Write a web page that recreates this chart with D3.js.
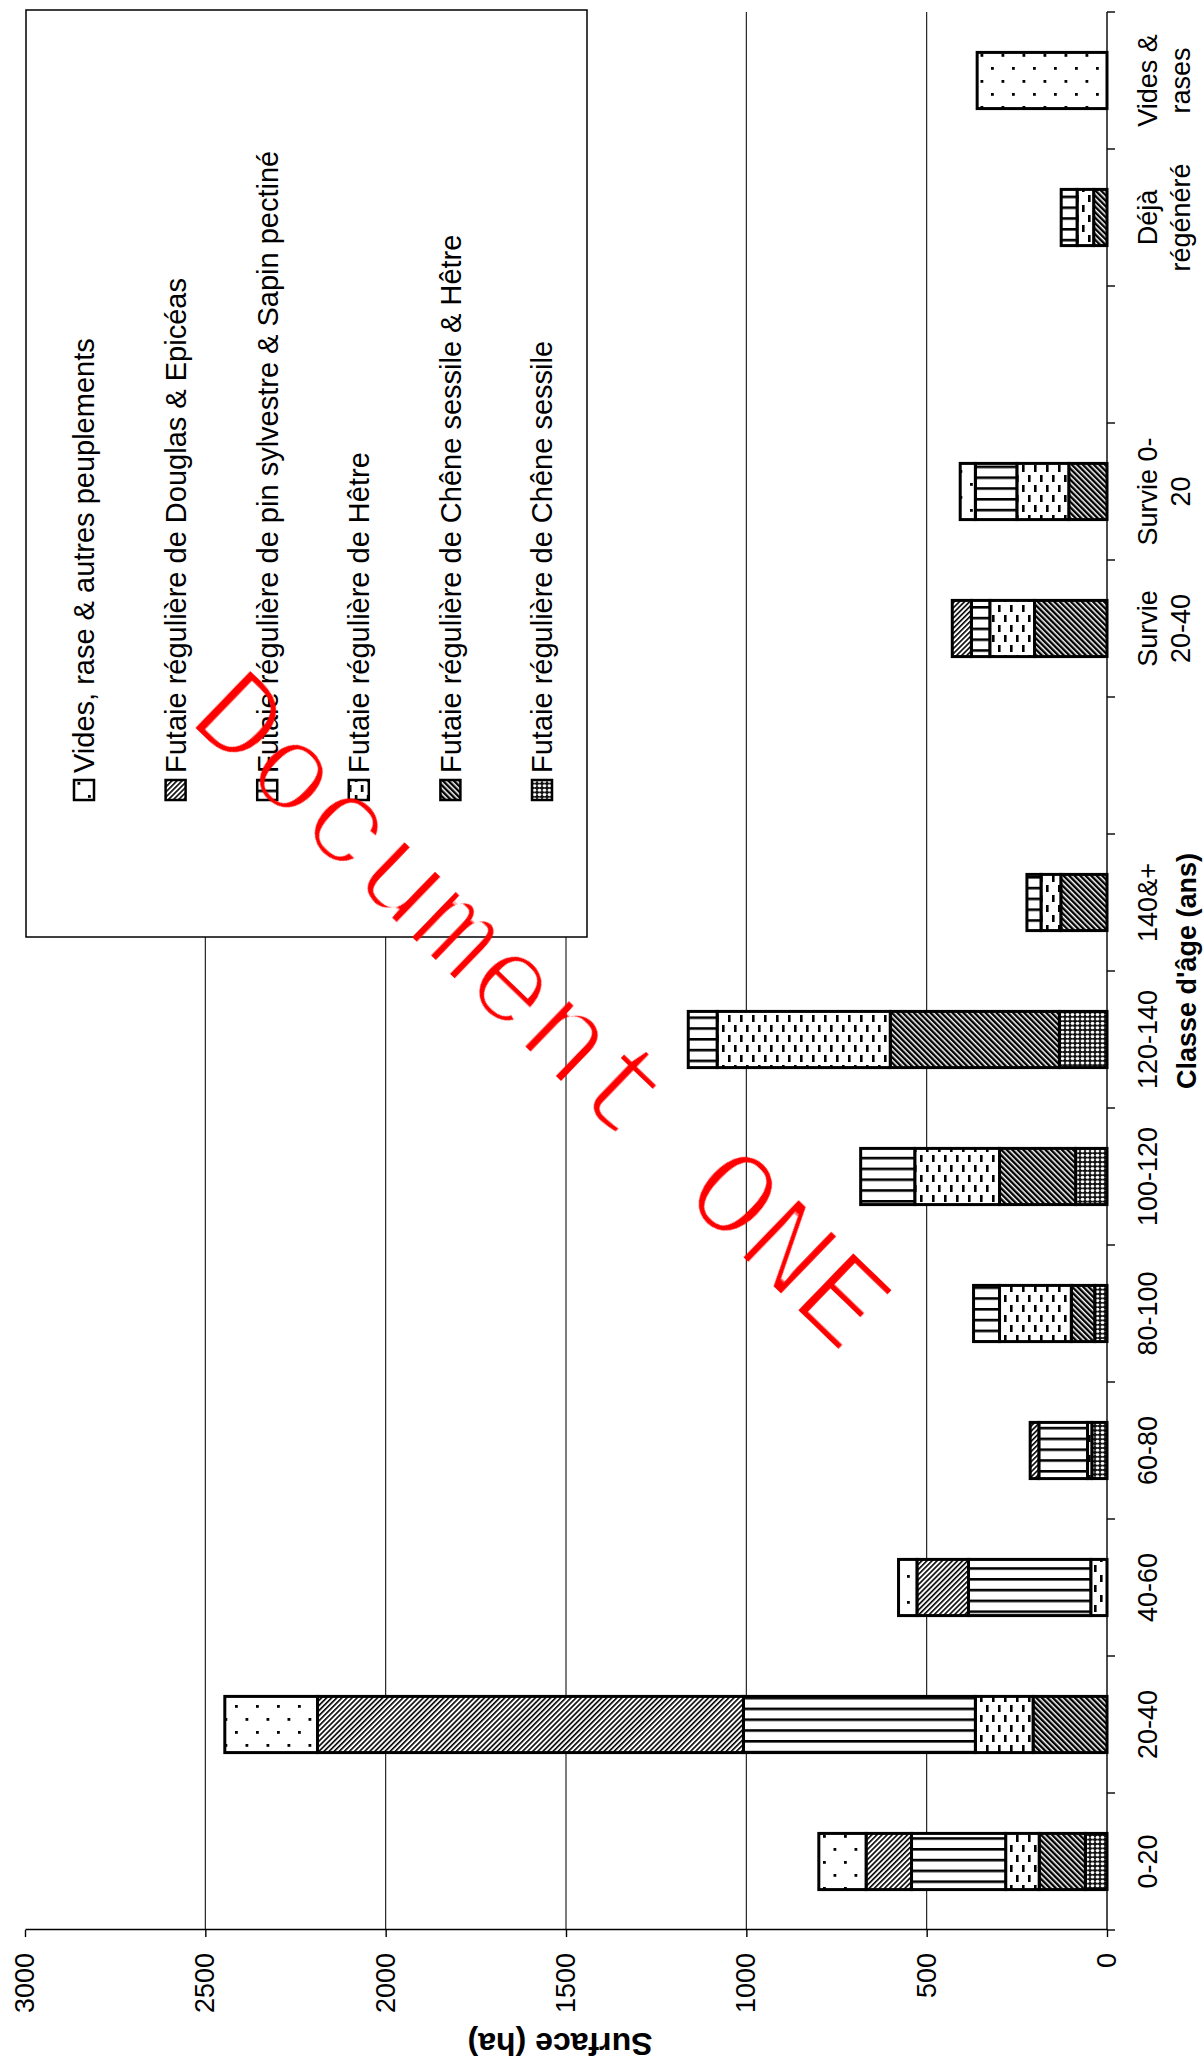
<!DOCTYPE html>
<html>
<head>
<meta charset="utf-8">
<script src="https://cdn.jsdelivr.net/npm/d3@7"></script>
<style>
  html, body { margin: 0; padding: 0; background: #fff; }
  svg { display: block; }
</style>
</head>
<body>
<svg id="chart" width="1203" height="2064"></svg>
<script>
// Surface par classe d'âge et type de peuplement (ha)
const categories = ["0-20", "20-40", "40-60", "60-80", "80-100", "100-120", "120-140", "140&+", "",
                    "Survie\n20-40", "Survie 0-\n20", "", "Déjà\nrégénéré", "Vides &\nrases"];

const cheneSessile      = [60,    0,   0,  42,  34,  87, 132,   0, 0,   0,   0, 0,  0,   0];
const cheneSessileHetre = [128, 205,   0,   0,  65, 211, 469, 128, 0, 201, 106, 0, 37,   0];
const hetre             = [93,  160,  45,  12, 199, 235, 480,  55, 0, 124, 144, 0, 46,   0];
const pinSapin          = [261, 643, 339, 135,  72, 150,  80,  39, 0,  51, 115, 0, 44,   0];
const douglasEpiceas    = [126, 1181, 143, 24,   0,   0,   0,   0, 0,  53,   0, 0,  0,   0];
const videsRases        = [131, 257,  51,   0,   0,   0,   0,   0, 0,   0,  42, 0,  0, 360];

const valueTicks = [0, 500, 1000, 1500, 2000, 2500, 3000];
const gridValues = [500, 1000, 1500, 2000, 2500];

// stacking order, from the axis outward
const seriesKeys = ["cs", "ch", "h", "pin", "dg", "vd"];
// legend order, as listed in the key
const legendEntries = [
  { key: "vd",  label: "Vides, rase & autres peuplements" },
  { key: "dg",  label: "Futaie régulière de Douglas & Epicéas" },
  { key: "pin", label: "Futaie régulière de pin sylvestre & Sapin pectiné" },
  { key: "h",   label: "Futaie régulière de Hêtre" },
  { key: "ch",  label: "Futaie régulière de Chêne sessile & Hêtre" },
  { key: "cs",  label: "Futaie régulière de Chêne sessile" }
];

const rows = categories.map((c, i) => ({
  i, label: c,
  cs: cheneSessile[i], ch: cheneSessileHetre[i], h: hetre[i],
  pin: pinSapin[i], dg: douglasEpiceas[i], vd: videsRases[i]
}));

const W = 1203, H = 2064;
const FONT = "'Liberation Sans', Arial, Helvetica, sans-serif";

const svg = d3.select("#chart");
svg.append("rect").attr("width", W).attr("height", H).attr("fill", "#fff");
const defs = svg.append("defs");

// thins the glyph strokes of the stamp text
defs.append("filter").attr("id", "thin")
  .attr("x", "-5%").attr("y", "-20%").attr("width", "110%").attr("height", "140%")
  .append("feMorphology").attr("operator", "erode").attr("radius", 2.2);

// ---- hatch patterns (tile axes follow the page, hence the rotate(90)) ----
function stripes(id, angle, period, lineW) {
  const p = defs.append("pattern").attr("id", id)
    .attr("patternUnits", "userSpaceOnUse")
    .attr("width", period).attr("height", period)
    .attr("patternTransform", `rotate(90) rotate(${angle})`);
  p.append("rect").attr("width", period).attr("height", period).attr("fill", "#fff");
  p.append("rect").attr("width", lineW).attr("height", period).attr("fill", "#000");
}
// Chêne sessile & Hêtre : dense dark diagonal
stripes("pat-ch", -45, 3.9, 2.4);
// Douglas & Epicéas : fine diagonal the other way
stripes("pat-dg", 45, 3.6, 1.6);

// Chêne sessile : dark grid with small light holes
{
  const p = defs.append("pattern").attr("id", "pat-cs")
    .attr("patternUnits", "userSpaceOnUse").attr("width", 5).attr("height", 4.4)
    .attr("patternTransform", "rotate(90)");
  p.append("rect").attr("width", 5).attr("height", 4.4).attr("fill", "#111");
  p.append("ellipse").attr("cx", 2.5).attr("cy", 2.2).attr("rx", 1.9).attr("ry", 1.5).attr("fill", "#fff");
}
// Pin sylvestre & Sapin : parallel bold rules
{
  const p = defs.append("pattern").attr("id", "pat-pin")
    .attr("patternUnits", "userSpaceOnUse").attr("width", 10).attr("height", 10.8)
    .attr("patternTransform", "rotate(90)");
  p.append("rect").attr("width", 10).attr("height", 10.8).attr("fill", "#fff");
  p.append("rect").attr("y", 0).attr("width", 10).attr("height", 2.6).attr("fill", "#000");
}
// Hêtre : staggered short dashes
{
  const p = defs.append("pattern").attr("id", "pat-h")
    .attr("patternUnits", "userSpaceOnUse").attr("width", 12).attr("height", 20)
    .attr("patternTransform", "rotate(90)");
  p.append("rect").attr("width", 12).attr("height", 20).attr("fill", "#fff");
  p.append("rect").attr("x", 2).attr("y", 1).attr("width", 2.6).attr("height", 7).attr("fill", "#000");
  p.append("rect").attr("x", 8).attr("y", 11).attr("width", 2.6).attr("height", 7).attr("fill", "#000");
}
// Vides & rases : sparse dots
{
  const p = defs.append("pattern").attr("id", "pat-vd")
    .attr("patternUnits", "userSpaceOnUse").attr("width", 21).attr("height", 26)
    .attr("patternTransform", "rotate(90)");
  p.append("rect").attr("width", 21).attr("height", 26).attr("fill", "#fff");
  p.append("rect").attr("x", 4).attr("y", 5).attr("width", 2.8).attr("height", 2.8).attr("fill", "#000");
  p.append("rect").attr("x", 14.5).attr("y", 18).attr("width", 2.8).attr("height", 2.8).attr("fill", "#000");
}
const fillFor = k => `url(#pat-${k})`;

// ---- the chart is laid out upright in g, then turned a quarter turn ----
const g = svg.append("g").attr("transform", `translate(0,${H}) rotate(-90)`);

const x = d3.scaleBand().domain(d3.range(categories.length)).range([134, 2052]).padding(0);
const barW = x.bandwidth() * 0.41;
const y = d3.scaleLinear().domain([0, 3000]).range([1107, 25]);

// gridlines
g.append("g").selectAll("line").data(gridValues).join("line")
  .attr("x1", x.range()[0]).attr("x2", x.range()[1])
  .attr("y1", d => y(d)).attr("y2", d => y(d))
  .attr("stroke", "#111").attr("stroke-width", 1.1);

// stacked bars
const stacked = d3.stack().keys(seriesKeys)(rows);
const barG = g.append("g");
stacked.forEach(layer => {
  barG.append("g").selectAll("rect")
    .data(layer.filter(d => d[1] - d[0] > 0))
    .join("rect")
    .attr("x", d => x(d.data.i) + (x.bandwidth() - barW) / 2)
    .attr("width", barW)
    .attr("y", d => y(d[1]))
    .attr("height", d => y(d[0]) - y(d[1]))
    .attr("fill", fillFor(layer.key))
    .attr("stroke", "#000").attr("stroke-width", 3);
});

// value axis
const yAxis = g.append("g").attr("transform", `translate(${x.range()[0]},0)`)
  .call(d3.axisLeft(y).tickValues(valueTicks).tickFormat(d3.format("d"))
    .tickSize(7).tickSizeOuter(0).tickPadding(16));
yAxis.select(".domain").attr("stroke", "#000").attr("stroke-width", 1.4);
yAxis.selectAll(".tick line").attr("stroke", "#000").attr("stroke-width", 1.4);
yAxis.selectAll(".tick text").attr("font-family", FONT).attr("font-size", 27).attr("fill", "#000");

// category axis
const catAxis = g.append("g");
catAxis.append("line")
  .attr("x1", x.range()[0]).attr("x2", x.range()[1])
  .attr("y1", y(0)).attr("y2", y(0))
  .attr("stroke", "#000").attr("stroke-width", 1.4);
const boundaries = d3.range(categories.length + 1).map(i => x.range()[0] + i * x.step());
catAxis.selectAll("line.tick").data(boundaries).join("line").attr("class", "tick")
  .attr("x1", d => d).attr("x2", d => d)
  .attr("y1", y(0)).attr("y2", y(0) + 8)
  .attr("stroke", "#000").attr("stroke-width", 1.4);
const catLabels = catAxis.selectAll("text").data(rows).join("text")
  .attr("font-family", FONT).attr("font-size", 27).attr("fill", "#000")
  .attr("text-anchor", "middle");
catLabels.each(function (d) {
  const lines = d.label.split("\n");
  d3.select(this).selectAll("tspan").data(lines).join("tspan")
    .attr("x", x(d.i) + x.bandwidth() / 2)
    .attr("y", (l, k) => 1157 + k * 33)
    .text(l => l);
});

// axis titles
g.append("text")
  .attr("x", (x.range()[0] + x.range()[1]) / 2).attr("y", 1196)
  .attr("text-anchor", "middle")
  .attr("font-family", FONT).attr("font-size", 27).attr("font-weight", "bold")
  .text("Classe d'âge (ans)");
g.append("text")
  .attr("transform", `translate(31,${(y(0) + y(3000)) / 2 - 6}) rotate(-90)`)
  .attr("text-anchor", "middle")
  .attr("font-family", FONT).attr("font-size", 32).attr("font-weight", "bold")
  .text("Surface (ha)");

// legend
const legend = g.append("g");
legend.append("rect")
  .attr("x", 1127).attr("y", 26).attr("width", 2054 - 1127).attr("height", 587 - 26)
  .attr("fill", "#fff").attr("stroke", "#000").attr("stroke-width", 1.5);
const items = legend.selectAll("g.item").data(legendEntries).join("g").attr("class", "item")
  .attr("transform", (d, i) => `translate(0,${84 + i * 91.6})`);
items.append("rect")
  .attr("x", 1264).attr("y", -10).attr("width", 20).attr("height", 20)
  .attr("fill", d => fillFor(d.key)).attr("stroke", "#000").attr("stroke-width", 2.5);
items.append("text")
  .attr("x", 1291).attr("y", 10.4)
  .attr("font-family", FONT).attr("font-size", 29).attr("fill", "#000")
  .text(d => d.label);

// document stamp
svg.append("text")
  .attr("transform", "translate(540,1012) rotate(44)")
  .attr("x", 0).attr("y", 37)
  .attr("text-anchor", "middle")
  .attr("font-family", "'Liberation Mono', 'Courier New', monospace")
  .attr("font-size", 127)
  .attr("fill", "#ff0000")
  .attr("filter", "url(#thin)")
  .text("Document ONE");
</script>
</body>
</html>
